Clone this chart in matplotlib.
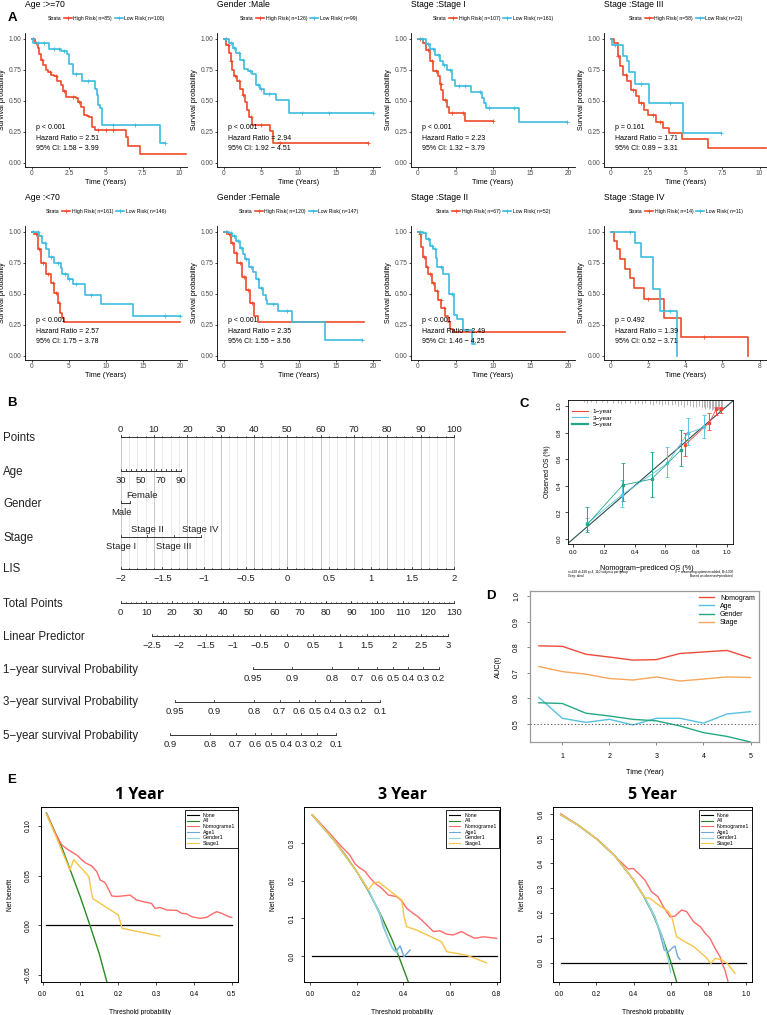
import matplotlib
matplotlib.use("Agg")
import matplotlib.pyplot as plt
from matplotlib.lines import Line2D
import numpy as np

plt.rcParams["font.family"] = ["Liberation Sans", "DejaVu Sans"]

W, H = 767, 1015
MINUS = "\u2212"

# ---------------- A: Kaplan-Meier by subgroup ----------------
km_titles = ["Age :>=70", "Gender :Male", "Stage :Stage I", "Stage :Stage III",
             "Age :<70", "Gender :Female", "Stage :Stage II", "Stage :Stage IV"]
km_n_high = [85, 126, 107, 58, 161, 120, 67, 14]
km_n_low = [100, 99, 161, 22, 146, 147, 52, 11]
km_p = ["p < 0.001", "p < 0.001", "p < 0.001", "p = 0.161",
        "p < 0.001", "p < 0.001", "p < 0.001", "p = 0.492"]
km_hr = ["2.51", "2.94", "2.23", "1.71", "2.57", "2.35", "2.49", "1.39"]
km_ci = [("1.58", "3.99"), ("1.92", "4.51"), ("1.32", "3.79"), ("0.89", "3.31"),
         ("1.75", "3.78"), ("1.55", "3.56"), ("1.46", "4.25"), ("0.52", "3.71")]
km_xticks = [[0, 2.5, 5, 7.5, 10], [0, 5, 10, 15, 20], [0, 5, 10, 15, 20], [0, 2.5, 5, 7.5, 10],
             [0, 5, 10, 15, 20], [0, 5, 10, 15, 20], [0, 5, 10, 15, 20], [0, 2, 4, 6, 8]]
km_xmax = [10.5, 20.9, 20.9, 10.5, 20.9, 20.9, 20.9, 8.4]

hi_t = [
    [0, 0.2, 0.38, 0.5, 0.6, 0.75, 0.94, 1.1, 1.3, 1.5, 1.7, 1.95, 2.1, 2.3, 2.6, 3.0, 3.15, 3.3, 3.5, 3.7, 3.85, 4.07, 4.3, 6.35, 6.5, 7.3, 10.4],
    [0, 0.3, 0.67, 0.9, 1.1, 1.4, 1.8, 2.1, 2.5, 2.8, 3.1, 3.4, 3.8, 6.2, 6.6, 19.3],
    [0, 0.67, 1.1, 1.56, 2.0, 2.7, 2.9, 3.1, 3.35, 3.8, 4.1, 6.25, 10],
    [0, 0.22, 0.45, 0.6, 0.8, 1.1, 1.35, 1.7, 1.9, 2.25, 2.5, 3.0, 3.5, 3.9, 4.8, 6.5, 10.4],
    [0, 0.3, 0.76, 1.2, 1.9, 2.55, 3.0, 3.45, 3.8, 4.0, 4.3, 20],
    [0, 0.45, 0.9, 1.35, 1.8, 2.4, 2.9, 3.46, 4.0, 4.5, 18.7],
    [0, 0.22, 0.45, 0.67, 1.0, 1.34, 1.8, 2.2, 2.7, 3.1, 3.6, 4.0, 4.3, 4.6, 19.6],
    [0, 0.18, 0.3, 0.49, 0.77, 1.03, 1.26, 1.8, 2.88, 3.78, 7.35],
]
hi_s = [
    [1, 0.97, 0.93, 0.88, 0.83, 0.79, 0.75, 0.73, 0.71, 0.70, 0.66, 0.63, 0.58, 0.535, 0.53, 0.52, 0.49, 0.45, 0.39, 0.38, 0.37, 0.29, 0.27, 0.21, 0.14, 0.07, 0.07],
    [1, 0.95, 0.89, 0.82, 0.75, 0.70, 0.66, 0.60, 0.55, 0.49, 0.43, 0.37, 0.31, 0.26, 0.16, 0.16],
    [1, 0.97, 0.91, 0.82, 0.74, 0.70, 0.64, 0.59, 0.51, 0.45, 0.40, 0.34, 0.34],
    [1, 0.97, 0.86, 0.78, 0.71, 0.66, 0.59, 0.54, 0.48, 0.43, 0.39, 0.33, 0.28, 0.24, 0.19, 0.12, 0.12],
    [1, 0.98, 0.86, 0.75, 0.66, 0.59, 0.51, 0.43, 0.35, 0.31, 0.27, 0.27],
    [1, 0.98, 0.91, 0.83, 0.75, 0.64, 0.53, 0.43, 0.32, 0.27, 0.27],
    [1, 0.98, 0.88, 0.80, 0.72, 0.66, 0.59, 0.52, 0.45, 0.39, 0.32, 0.27, 0.22, 0.19, 0.19],
    [1, 0.925, 0.86, 0.78, 0.70, 0.63, 0.55, 0.46, 0.31, 0.155, 0.0],
]
lo_t = [
    [0, 0.1, 1.16, 1.95, 2.4, 2.5, 2.75, 3.4, 4.25, 4.4, 4.5, 4.63, 4.74, 8.7, 9.0],
    [0, 0.7, 1.2, 1.6, 2.2, 2.7, 3.2, 3.8, 4.3, 4.8, 5.4, 7.0, 8.7, 20],
    [0, 1.1, 1.6, 2.2, 2.9, 3.3, 3.8, 4.5, 4.9, 7.1, 8.5, 8.8, 9.1, 13.4, 19.9],
    [0, 0.05, 0.8, 1.05, 1.2, 1.6, 2.55, 4.85, 7.4],
    [0, 0.5, 1.0, 1.4, 1.9, 2.3, 3.0, 3.9, 4.1, 4.8, 5.5, 7.1, 9.3, 13.6, 20],
    [0, 0.67, 1.1, 1.66, 2.1, 2.5, 2.8, 3.4, 3.9, 4.27, 4.7, 5.2, 5.6, 5.8, 7.2, 9.1, 13.5, 18.5],
    [0, 0.67, 1.1, 1.56, 2.0, 2.37, 2.5, 3.35, 4.15, 4.8, 5.2, 6.0, 7.2, 7.6],
    [0, 1.31, 1.62, 2.25, 2.66, 3.56],
]
lo_s = [
    [1, 0.97, 0.92, 0.90, 0.88, 0.80, 0.72, 0.66, 0.60, 0.55, 0.47, 0.44, 0.31, 0.16, 0.16],
    [1, 0.97, 0.93, 0.89, 0.83, 0.76, 0.74, 0.72, 0.63, 0.60, 0.56, 0.51, 0.40, 0.40],
    [1, 0.96, 0.92, 0.87, 0.82, 0.79, 0.75, 0.67, 0.62, 0.57, 0.52, 0.48, 0.44, 0.33, 0.33],
    [1, 0.955, 0.86, 0.82, 0.73, 0.64, 0.48, 0.24, 0.24],
    [1, 1.0, 0.965, 0.91, 0.86, 0.80, 0.75, 0.71, 0.66, 0.62, 0.58, 0.49, 0.42, 0.32, 0.32],
    [1, 0.99, 0.965, 0.925, 0.87, 0.82, 0.78, 0.72, 0.68, 0.62, 0.55, 0.49, 0.45, 0.42, 0.36, 0.27, 0.13, 0.13],
    [1, 0.99, 0.94, 0.89, 0.86, 0.79, 0.72, 0.66, 0.50, 0.33, 0.30, 0.21, 0.10, 0.10],
    [1, 0.91, 0.80, 0.54, 0.36, 0.0],
]
hi_cens = [
    [0.1, 0.3, 0.7, 1.2, 1.6, 2.2, 2.8, 3.2, 4.5, 5.0, 5.5],
    [0.2, 0.5, 1.0, 1.5, 2.0, 2.6, 3.6, 5.0, 7.5, 19.3],
    [0.3, 0.9, 1.3, 1.8, 2.4, 3.0, 3.6, 4.5, 6.0, 10],
    [0.5, 1.0, 1.5, 2.0, 2.8, 3.3],
    [0.2, 0.5, 1.0, 1.5, 2.2, 2.8, 3.2, 3.6],
    [0.2, 0.7, 1.1, 1.6, 2.1, 2.7, 3.2, 3.7],
    [0.3, 0.8, 1.2, 1.6, 2.0, 2.5, 3.0, 3.4],
    [2.0, 5.0],
]
lo_cens = [
    [0.05, 0.4, 0.8, 1.5, 1.8, 2.2, 3.0, 3.8, 5.5, 7.0, 9.0],
    [0.3, 1.0, 1.4, 2.0, 2.5, 3.5, 4.5, 5.0, 6.0, 10.5, 14.0, 20],
    [0.5, 1.3, 2.0, 2.6, 3.5, 4.2, 5.5, 6.3, 8.2, 9.5, 12.8, 19.9],
    [0.3, 2.0, 4.0, 7.4],
    [0.2, 0.8, 1.2, 1.7, 2.6, 3.5, 4.5, 5.0, 6.0, 8.0, 18.0, 20],
    [0.4, 1.0, 1.4, 1.9, 2.3, 3.0, 3.6, 4.5, 5.0, 6.5, 8.5, 18.5],
    [0.3, 0.9, 1.3, 1.8, 2.2, 3.0, 4.5],
    [1.0, 3.2],
]

# ---------------- B: nomogram ----------------
nom_names = ["Points", "Age", "Gender", "Stage", "LIS", "Total Points", "Linear Predictor",
             "1" + MINUS + "year survival Probability", "3" + MINUS + "year survival Probability",
             "5" + MINUS + "year survival Probability"]
age_ticks = [30, 35, 40, 45, 50, 55, 60, 65, 70, 75, 80, 85, 90]
age_labels = [30, 50, 70, 90]
age_max_points = 18.0
gender_levels = ["Male", "Female"]
gender_points = [0, 2.8]
stage_levels = ["Stage I", "Stage II", "Stage III", "Stage IV"]
stage_points = [0, 8.0, 16.0, 24.0]
lis_labels = [-2, -1.5, -1, -0.5, 0, 0.5, 1, 1.5, 2]
total_max = 130
lp_labels = [-2.5, -2, -1.5, -1, -0.5, 0, 0.5, 1, 1.5, 2, 2.5, 3]
lp_intercept = -3.083
lp_slope = 0.04765
surv_years = [1, 3, 5]
base_surv = [0.909, 0.666, 0.399]
surv_ticks = [[0.95, 0.9, 0.8, 0.7, 0.6, 0.5, 0.4, 0.3, 0.2],
              [0.95, 0.9, 0.8, 0.7, 0.6, 0.5, 0.4, 0.3, 0.2, 0.1],
              [0.9, 0.8, 0.7, 0.6, 0.5, 0.4, 0.3, 0.2, 0.1]]

# ---------------- C: calibration ----------------
cal_labels = ["1" + MINUS + "year", "3" + MINUS + "year", "5" + MINUS + "year"]
cal_x = [[0.727, 0.885, 0.93, 0.96],
         [0.093, 0.316, 0.612, 0.745, 0.853],
         [0.093, 0.323, 0.51, 0.70]]
cal_y = [[0.707, 0.875, 0.977, 0.98],
         [0.118, 0.33, 0.568, 0.795, 0.84],
         [0.11, 0.405, 0.45, 0.668]]
cal_lo = [[0.624, 0.82, 0.935, 0.95],
          [0.07, 0.243, 0.468, 0.707, 0.757],
          [0.055, 0.288, 0.313, 0.549]]
cal_hi = [[0.795, 0.945, 0.99, 0.995],
          [0.16, 0.44, 0.69, 0.907, 0.93],
          [0.238, 0.574, 0.656, 0.82]]
rug_x = [0.07, 0.09, 0.12, 0.15, 0.19, 0.22, 0.26, 0.29, 0.31, 0.34, 0.37, 0.40, 0.42, 0.45,
         0.47, 0.50, 0.52, 0.54, 0.56, 0.58, 0.60, 0.62, 0.64, 0.66, 0.68, 0.70, 0.72, 0.74,
         0.76, 0.78, 0.80, 0.82, 0.84, 0.85, 0.86, 0.87, 0.88, 0.89, 0.90, 0.91, 0.92, 0.93,
         0.94, 0.95, 0.96, 0.97]
rug_h = [0.015, 0.02, 0.015, 0.02, 0.015, 0.02, 0.025, 0.02, 0.03, 0.02, 0.025, 0.03, 0.02, 0.03,
         0.025, 0.03, 0.035, 0.025, 0.03, 0.04, 0.03, 0.035, 0.04, 0.03, 0.045, 0.04, 0.05, 0.035,
         0.045, 0.05, 0.055, 0.045, 0.06, 0.05, 0.065, 0.055, 0.07, 0.06, 0.075, 0.065, 0.08, 0.07,
         0.075, 0.08, 0.07, 0.06]

# ---------------- D: time-dependent AUC ----------------
auc_time = [0.5, 1, 1.5, 2, 2.5, 3, 3.5, 4, 4.5, 5]
auc_nomogram = [0.806, 0.804, 0.773, 0.762, 0.750, 0.752, 0.776, 0.782, 0.788, 0.758]
auc_age = [0.604, 0.522, 0.506, 0.518, 0.496, 0.522, 0.522, 0.503, 0.539, 0.548]
auc_gender = [0.583, 0.580, 0.542, 0.531, 0.518, 0.512, 0.492, 0.466, 0.451, 0.429]
auc_stage = [0.725, 0.705, 0.695, 0.678, 0.672, 0.684, 0.668, 0.676, 0.684, 0.682]

# ---------------- E: decision curves ----------------
dca_titles = ["1 Year", "3 Year", "5 Year"]
dca_x_end = [0.5, 0.8, 1.0]
dca_all_x = [[0.01, 0.05, 0.10, 0.125, 0.15, 0.172],
             [0.01, 0.05, 0.10, 0.15, 0.20, 0.25, 0.30, 0.35, 0.38, 0.425],
             [0.01, 0.1, 0.2, 0.3, 0.4, 0.45, 0.5, 0.55, 0.6, 0.635]]
dca_all_y = [[0.113, 0.079, 0.028, 0.0, -0.029, -0.06],
             [0.374, 0.347, 0.31, 0.27, 0.225, 0.173, 0.114, 0.046, 0.0, -0.075],
             [0.596, 0.556, 0.5, 0.43, 0.333, 0.273, 0.2, 0.111, 0.0, -0.09]]
dca_nomo_x = [[0.01, 0.03, 0.05, 0.067, 0.09, 0.112, 0.13, 0.143, 0.152, 0.165, 0.183, 0.196, 0.218,
               0.231, 0.248, 0.266, 0.288, 0.297, 0.31, 0.328, 0.355, 0.368, 0.38, 0.394, 0.416,
               0.434, 0.444, 0.46, 0.474, 0.492, 0.5],
              [0.01, 0.086, 0.129, 0.171, 0.193, 0.214, 0.236, 0.257, 0.279, 0.3, 0.314, 0.336, 0.371,
               0.393, 0.414, 0.443, 0.464, 0.493, 0.529, 0.557, 0.586, 0.614, 0.65, 0.679, 0.707,
               0.743, 0.8],
              [0.01, 0.1, 0.21, 0.246, 0.309, 0.371, 0.398, 0.434, 0.46, 0.496, 0.53, 0.559, 0.595,
               0.621, 0.657, 0.684, 0.721, 0.757, 0.784, 0.809, 0.836, 0.863, 0.87, 0.889, 0.91]]
dca_nomo_y = [[0.112, 0.095, 0.081, 0.076, 0.0707, 0.063, 0.0597, 0.054, 0.0456, 0.043, 0.0295, 0.029,
               0.0298, 0.0305, 0.0255, 0.0238, 0.022, 0.017, 0.018, 0.0154, 0.015, 0.012, 0.0117,
               0.0087, 0.007, 0.008, 0.0104, 0.0137, 0.012, 0.0087, 0.008],
              [0.376, 0.325, 0.295, 0.268, 0.245, 0.234, 0.225, 0.208, 0.193, 0.184, 0.176, 0.162,
               0.158, 0.147, 0.127, 0.113, 0.104, 0.087, 0.065, 0.067, 0.058, 0.056, 0.065, 0.055,
               0.047, 0.051, 0.047],
              [0.6, 0.556, 0.495, 0.47, 0.422, 0.378, 0.38, 0.354, 0.333, 0.286, 0.266, 0.226, 0.185,
               0.188, 0.2125, 0.206, 0.165, 0.145, 0.118, 0.098, 0.058, 0.024, 0.004, -0.03, -0.09]]
dca_age_x = [[], [0.01, 0.1, 0.2, 0.25, 0.3, 0.314, 0.35, 0.367, 0.386, 0.403, 0.429],
             [0.01, 0.1, 0.2, 0.3, 0.4, 0.46, 0.514, 0.541, 0.564, 0.586, 0.604, 0.621, 0.636, 0.648]]
dca_age_y = [[], [0.374, 0.31, 0.225, 0.176, 0.11, 0.078, 0.025, 0.011, 0.027, -0.002, 0.016],
             [0.596, 0.556, 0.5, 0.43, 0.333, 0.262, 0.185, 0.118, 0.051, 0.044, 0.058, 0.067, 0.024, 0.013]]
dca_gender_x = [[], [0.01, 0.1, 0.2, 0.25, 0.3, 0.329, 0.357, 0.379],
                [0.01, 0.1, 0.2, 0.3, 0.4, 0.46, 0.514, 0.55, 0.568, 0.586, 0.598]]
dca_gender_y = [[], [0.374, 0.31, 0.225, 0.176, 0.113, 0.056, 0.016, 0.008],
                [0.596, 0.556, 0.5, 0.43, 0.333, 0.262, 0.18, 0.112, 0.06, 0.011, -0.04]]
dca_stage_x = [[0.01, 0.04, 0.072, 0.082, 0.122, 0.132, 0.2, 0.21, 0.31],
               [0.01, 0.1, 0.2, 0.25, 0.271, 0.293, 0.329, 0.393, 0.403, 0.414, 0.457, 0.564, 0.586,
                0.629, 0.671, 0.757],
               [0.01, 0.1, 0.2, 0.3, 0.4, 0.46, 0.487, 0.532, 0.586, 0.604, 0.63, 0.657, 0.721, 0.784,
                0.814, 0.836, 0.871, 0.904, 0.943]]
dca_stage_y = [[0.112, 0.085, 0.0556, 0.066, 0.049, 0.027, 0.0104, -0.003, -0.0108],
               [0.375, 0.31, 0.225, 0.176, 0.193, 0.197, 0.18, 0.149, 0.105, 0.078, 0.069, 0.038,
                0.0115, 0.0069, 0.002, -0.018],
               [0.596, 0.556, 0.5, 0.43, 0.333, 0.262, 0.26, 0.233, 0.206, 0.185, 0.105, 0.092, 0.065,
                0.024, -0.003, 0.017, 0.013, -0.005, -0.043]]

# colours
RED_KM, BLUE_KM = "#EE4B2B", "#3DBCDF"
CAL_COLS = ["#EE4B3B", "#5BC5E5", "#23A58A"]
AUC_COLS = ["#EE4B3B", "#56C1E0", "#22A884", "#F9A55A"]
DCA_COLS = {"None": "black", "All": "#2A8A22", "Nomograme1": "#FF6A6A",
            "Age1": "#6FA8DC", "Gender1": "#93D6D9", "Stage1": "#F7C548"}


def fmt(v, f="%g"):
    return (f % v).replace("-", MINUS)


fig = plt.figure(figsize=(W / 100, H / 100), dpi=100)


def add_ax(l, t, r, b):
    return fig.add_axes([l / W, 1 - b / H, (r - l) / W, (b - t) / H])


def panel_letter(x, y, s):
    fig.text(x / W, 1 - y / H, s, fontsize=9.5, fontweight="bold", ha="center", va="center")


# ================= A =================
col_l = [25, 217, 411, 604]
col_r = [187, 380, 575, 767]
row_t = [33.4, 226.4]
row_b = [166.7, 359.7]

for i in range(8):
    r, c = divmod(i, 4)
    l, rr, t, b = col_l[c], col_r[c], row_t[r], row_b[r]
    ax = add_ax(l, t, rr, b)
    xmax = km_xmax[i]
    ax.set_xlim(-0.045 * xmax, xmax)
    ax.set_ylim(-0.03, 1.045)
    for tt, ss, cens, col in ((hi_t[i], hi_s[i], hi_cens[i], RED_KM),
                              (lo_t[i], lo_s[i], lo_cens[i], BLUE_KM)):
        ax.step(tt, ss, where="post", color=col, lw=1.2)
        ta, sa = np.array(tt), np.array(ss)
        idx = np.searchsorted(ta, cens, side="right") - 1
        ax.plot(cens, sa[idx], ls="none", marker="+", ms=3, mew=0.6, color=col)
    for sp in ("top", "right"):
        ax.spines[sp].set_visible(False)
    for sp in ("left", "bottom"):
        ax.spines[sp].set_linewidth(0.6)
    ax.set_yticks([0, 0.25, 0.5, 0.75, 1.0])
    ax.set_yticklabels(["0.00", "0.25", "0.50", "0.75", "1.00"])
    ax.set_xticks(km_xticks[i])
    ax.set_xticklabels([fmt(v) for v in km_xticks[i]])
    ax.tick_params(labelsize=4.8, length=1.5, width=0.5, pad=1.2, labelcolor="#4D4D4D")
    ax.set_xlabel("Time (Years)", fontsize=5.2, labelpad=1)
    ax.set_ylabel("Survival probability", fontsize=5.2, labelpad=2)
    tr = ax.get_yaxis_transform()
    ax.text(0.065, 0.285, km_p[i], transform=tr, fontsize=5, va="center")
    ax.text(0.065, 0.20, "Hazard Ratio = " + km_hr[i], transform=tr, fontsize=5, va="center")
    ax.text(0.065, 0.113, "95% CI: " + km_ci[i][0] + " " + MINUS + " " + km_ci[i][1],
            transform=tr, fontsize=5, va="center")
    fig.text(l / W, 1 - (t - 29) / H, km_titles[i], fontsize=6.2, va="center")
    h0 = Line2D([], [], color="none")
    h1 = Line2D([], [], color=RED_KM, lw=1.2, marker="+", ms=3, mew=0.6)
    h2 = Line2D([], [], color=BLUE_KM, lw=1.2, marker="+", ms=3, mew=0.6)
    ax.legend([h0, h1, h2], ["Strata", "High Risk( n=%d)" % km_n_high[i], "Low Risk( n=%d)" % km_n_low[i]],
              ncol=3, loc="center", bbox_to_anchor=(0.47, 1 + 15 / (b - t)), frameon=False,
              fontsize=3.7, handlelength=1.6, handletextpad=0.3, columnspacing=0.5,
              borderpad=0, borderaxespad=0)

panel_letter(12, 18, "A")

# ================= B =================
pts_px0, pts_px100 = 120.7, 454
ppx = (pts_px100 - pts_px0) / 100.0
axB = add_ax(0, 395, 560, 760)
axB.set_xlim(-pts_px0 / ppx, (560 - pts_px0) / ppx)
axB.set_ylim(760, 395)
axB.axis("off")

row_y = [437.3, 471, 503.3, 537.3, 569, 603.3, 636, 669.3, 701.7, 735]
name_x = (3 - pts_px0) / ppx
for name, y in zip(nom_names, row_y):
    axB.text(name_x, y + 0.5, name, fontsize=8.3, va="center", ha="left", color="#222222")

# vertical grid
for g in np.arange(0, 100.01, 2.5):
    major = abs(g / 10 - round(g / 10)) < 1e-6
    axB.plot([g, g], [row_y[0], row_y[4]], color="#C8C8C8" if major else "#E3E3E3",
             lw=0.7 if major else 0.5, zorder=0)

TICKC = "#333333"
TFS = 6.8


def nom_axis(y, xs, minor=None, major_len=2.2):
    axB.plot([min(xs), max(xs)], [y, y], color=TICKC, lw=0.7, zorder=2)
    for x in xs:
        axB.plot([x, x], [y, y - major_len], color=TICKC, lw=0.6, zorder=2)
    if minor is not None:
        for x in minor:
            axB.plot([x, x], [y, y - major_len * 0.6], color=TICKC, lw=0.5, zorder=2)


def nom_label(x, y, s, ha="center"):
    axB.text(x, y, s, fontsize=TFS, ha=ha, va="center", color="#222222")


BELOW, ABOVE = 9.5, -8.2

# Points
pts_major = np.arange(0, 101, 10)
nom_axis(row_y[0], pts_major, minor=np.arange(0, 101, 2.5))
for v in pts_major:
    nom_label(v, row_y[0] + ABOVE, "%d" % v)

# Age
age_pos = [(a - age_ticks[0]) / (age_ticks[-1] - age_ticks[0]) * age_max_points for a in age_ticks]
nom_axis(row_y[1], age_pos)
for a in age_labels:
    nom_label((a - age_ticks[0]) / (age_ticks[-1] - age_ticks[0]) * age_max_points, row_y[1] + BELOW, "%d" % a)

# Gender
nom_axis(row_y[2], gender_points)
nom_label(gender_points[0] + 0.3, row_y[2] + BELOW, gender_levels[0])
nom_label(gender_points[1] - 1.0, row_y[2] + ABOVE, gender_levels[1], ha="left")

# Stage
nom_axis(row_y[3], stage_points)
for k, (lev, p) in enumerate(zip(stage_levels, stage_points)):
    nom_label(p, row_y[3] + (BELOW if k % 2 == 0 else ABOVE), lev)

# LIS
lis_pos = [(v + 2) / 4 * 100 for v in lis_labels]
nom_axis(row_y[4], lis_pos, minor=np.arange(0, 100.01, 2.5))
for v, p in zip(lis_labels, lis_pos):
    nom_label(p, row_y[4] + BELOW, fmt(v))

# Total points
tp_major = np.arange(0, total_max + 1, 10)
nom_axis(row_y[5], tp_major * 100 / total_max, minor=np.arange(0, total_max + 1, 2) * 100 / total_max)
for v in tp_major:
    nom_label(v * 100 / total_max, row_y[5] + BELOW, "%d" % v)


def lp_to_x(lp):
    return (np.asarray(lp) - lp_intercept) / lp_slope * 100 / total_max


# Linear predictor
lp_minor = np.arange(-2.5, 3.001, 0.1)
nom_axis(row_y[6], lp_to_x(lp_labels), minor=lp_to_x(lp_minor))
for v in lp_labels:
    nom_label(lp_to_x(v), row_y[6] + BELOW, fmt(v))

# survival probability axes
for y, s0, labs in zip(row_y[7:], base_surv, surv_ticks):
    lp = np.log(-np.log(np.array(labs))) - np.log(-np.log(s0))
    xs = lp_to_x(lp)
    nom_axis(y, xs)
    for v, x in zip(labs, xs):
        nom_label(x, y + BELOW, fmt(v))

panel_letter(12, 403, "B")

# ================= C =================
axC = add_ax(568, 400, 733, 544)
axC.set_xlim(-0.0325, 1.039)
axC.set_ylim(-0.0376, 1.045)
axC.plot([-0.1, 1.1], [-0.1, 1.1], color="#2F4F4F", lw=0.8, zorder=1)
axC.vlines(rug_x, 1.045 - np.array(rug_h), 1.045, color="#7A7A7A", lw=0.4)
for xs, ys, lo, hi, col in zip(cal_x, cal_y, cal_lo, cal_hi, CAL_COLS):
    ys = np.array(ys)
    axC.errorbar(xs, ys, yerr=[ys - np.array(lo), np.array(hi) - ys], color=col, lw=0.6,
                 marker="s", ms=2, capsize=1.2, elinewidth=0.7, capthick=0.6, zorder=3)
cal_handles = [Line2D([], [], color=c, lw=w) for c, w in zip(CAL_COLS, [0.8, 0.8, 1.6])]
axC.legend(cal_handles, cal_labels, loc="upper left", frameon=False, fontsize=4.6,
           handlelength=2.4, labelspacing=0.15, borderaxespad=0.3, bbox_to_anchor=(0.0, 0.97))
axC.set_xticks(np.arange(0, 1.01, 0.2))
axC.set_xticklabels(["%.1f" % v for v in np.arange(0, 1.01, 0.2)])
axC.set_yticks(np.arange(0, 1.01, 0.2))
axC.set_yticklabels(["%.1f" % v for v in np.arange(0, 1.01, 0.2)], rotation=90, va="center")
axC.tick_params(labelsize=4.4, length=2, width=0.5, pad=2.5)
for sp in axC.spines.values():
    sp.set_linewidth(0.6)
axC.set_ylabel("Observed OS (%)", fontsize=4.8, labelpad=4)
fig.text(647 / W, 1 - 568 / H, "Nomogram" + MINUS + "prediced OS (%)", fontsize=5.2, ha="center", va="center")
fig.text(568 / W, 1 - 572 / H, "n=492 d=190 p=4, 110 subjects per group", fontsize=2.3, va="center")
fig.text(568 / W, 1 - 576 / H, "Gray: ideal", fontsize=2.3, va="center")
fig.text(733 / W, 1 - 572 / H, "X " + MINUS + " resampling optimism added, B=1000", fontsize=2.3,
         va="center", ha="right")
fig.text(733 / W, 1 - 576 / H, "Based on observed" + MINUS + "predicted", fontsize=2.3, va="center", ha="right")
panel_letter(524, 404, "C")

# ================= D =================
axD = add_ax(530.4, 590.7, 759, 742.3)
axD.set_xlim(0.32, 5.18)
axD.set_ylim(0.428, 1.022)
for ys, col, lab in zip([auc_nomogram, auc_age, auc_gender, auc_stage], AUC_COLS,
                        ["Nomogram", "Age", "Gender", "Stage"]):
    axD.plot(auc_time, ys, color=col, lw=1.0, label=lab)
axD.axhline(0.5, color="#666666", ls=(0, (1.5, 2)), lw=0.7)
axD.legend(loc="upper right", frameon=False, fontsize=5, handlelength=2.2,
           labelspacing=0.15, borderaxespad=0.2)
axD.set_xticks([1, 2, 3, 4, 5])
axD.set_yticks([0.5, 0.6, 0.7, 0.8, 0.9, 1.0])
axD.set_yticklabels(["0.5", "0.6", "0.7", "0.8", "0.9", "1.0"], rotation=90, va="center")
axD.tick_params(labelsize=5, length=2.5, width=0.5, pad=5, color="#555555")
for sp in axD.spines.values():
    sp.set_color("#9A9A9A")
    sp.set_linewidth(0.9)
axD.set_xlabel("Time (Year)", fontsize=5.3, labelpad=7)
axD.set_ylabel("AUC(t)", fontsize=5.3, labelpad=8)
panel_letter(491, 596, "D")

# ================= E =================
e_rects = [(40.7, 807.3, 238.3, 981.7), (304.3, 807.3, 500, 981.7), (553.3, 807.3, 752.3, 981.7)]
e_xlim = [(-0.0053, 0.5175), (-0.0244, 0.8144), (-0.0305, 1.0354)]
e_ylim = [(-0.0567, 0.1187), (-0.0684, 0.3955), (-0.0766, 0.6266)]
e_xticks = [np.arange(0, 0.51, 0.1), np.arange(0, 0.81, 0.2), np.arange(0, 1.01, 0.2)]
e_yticks = [[-0.05, 0, 0.05, 0.10], [0, 0.1, 0.2, 0.3], [0, 0.1, 0.2, 0.3, 0.4, 0.5, 0.6]]
e_yfmt = ["%.2f", "%.1f", "%.1f"]

for k in range(3):
    l, t, r, b = e_rects[k]
    ax = add_ax(l, t, r, b)
    ax.set_xlim(*e_xlim[k])
    ax.set_ylim(*e_ylim[k])
    series = [("None", [0.01, dca_x_end[k]], [0, 0]),
              ("All", dca_all_x[k], dca_all_y[k]),
              ("Nomograme1", dca_nomo_x[k], dca_nomo_y[k]),
              ("Age1", dca_age_x[k], dca_age_y[k]),
              ("Gender1", dca_gender_x[k], dca_gender_y[k]),
              ("Stage1", dca_stage_x[k], dca_stage_y[k])]
    handles = []
    for lab, xs, ys in series:
        lw = 1.0 if lab != "None" else 0.9
        ax.plot(xs, ys, color=DCA_COLS[lab], lw=lw)
        handles.append(Line2D([], [], color=DCA_COLS[lab], lw=0.8))
    leg = ax.legend(handles, [s[0] for s in series], loc="upper right", bbox_to_anchor=(0.997, 0.982),
                    fontsize=3.8, handlelength=2.2, labelspacing=0.12, borderpad=0.45,
                    borderaxespad=0, fancybox=False, framealpha=1, edgecolor="black")
    leg.get_frame().set_linewidth(0.6)
    ax.set_xticks(e_xticks[k])
    ax.set_xticklabels(["%.1f" % v for v in e_xticks[k]])
    ax.set_yticks(e_yticks[k])
    ax.set_yticklabels([fmt(v, e_yfmt[k]) for v in e_yticks[k]], rotation=90, va="center")
    ax.tick_params(labelsize=4.8, length=2.5, width=0.5, pad=4)
    for sp in ax.spines.values():
        sp.set_linewidth(0.7)
    ax.set_xlabel("Threshold probability", fontsize=4.8, labelpad=8)
    ax.set_ylabel("Net benefit", fontsize=4.8, labelpad=8)
    fig.text((l + r) / 2 / W, 1 - 795 / H, dca_titles[k], fontsize=11.5, fontweight="bold",
             ha="center", va="center", family=["Open Sans", "DejaVu Sans"])

panel_letter(12, 780, "E")

fig.savefig("out.png", dpi=100)
